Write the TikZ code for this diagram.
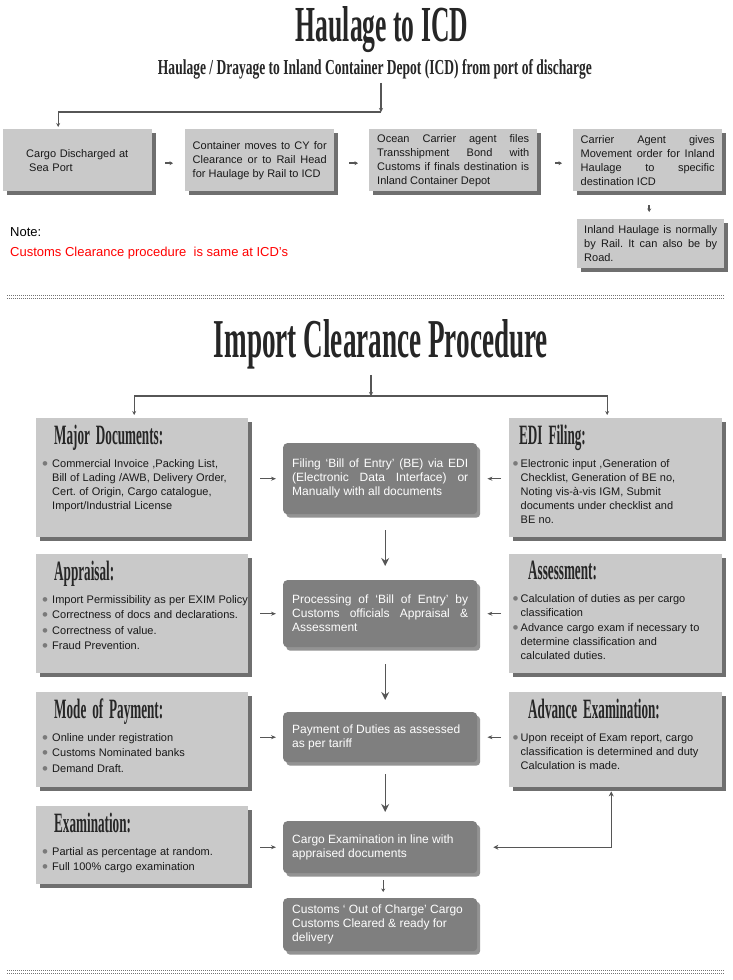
\documentclass[tikz,border=0pt]{standalone}
\usepackage{fontspec}
\setmainfont{Liberation Sans}
\newfontfamily\headserif{Liberation Serif}
\usepackage{graphicx}
\usetikzlibrary{shadows,positioning,arrows.meta}
\definecolor{boxgray}{HTML}{C9C9C9}
\definecolor{stepgray}{HTML}{7F7F7F}
\definecolor{arrowgray}{HTML}{565656}
\definecolor{bulgray}{HTML}{7A7A7A}
\definecolor{titlegray}{HTML}{262626}
\definecolor{notered}{HTML}{FF0000}
\frenchspacing
\newlength\bulw
\newlength\bulpre
\newcommand\phead[1]{\scalebox{0.47}[1]{\headserif\bfseries\fontsize{28}{28}\selectfont
  \spaceskip=0.45em\relax #1}}
\newcommand\bigtitle[3]{\resizebox{#1}{#2}{\headserif\bfseries #3}}
\newcommand\bulletmark{\raisebox{-2pt}{\fontsize{17}{14}\selectfont\textcolor{bulgray}{\textbullet}}}
\newcommand\bitem[1]{\par\hangindent=\bulw\hangafter=1\noindent
  \makebox[\bulw][l]{\hspace*{\bulpre}\bulletmark}#1\par\vspace{1.5pt}}
\newcommand\panelbody[4]{\parbox[t][#1][t]{\dimexpr\linewidth+10pt\relax}{\fontsize{11}{14}\selectfont
  \frenchspacing\hyphenpenalty=10000\relax
  \lineskiplimit=-20pt\relax\vspace*{7pt}\hspace*{#2}\textcolor{titlegray}{\phead{#3}}\par
  \vspace{8.5pt}#4}}
\tikzset{
  lightbox/.style={fill=boxgray, anchor=north west, text=black!90,
    drop shadow={shadow xshift=3.5pt, shadow yshift=-4pt, fill=black!80, opacity=.7}},
  topbox/.style={lightbox, font=\fontsize{11}{14}\selectfont, align=justify,
    inner ysep=2pt, minimum height=62pt},
  leftpanel/.style={lightbox, align=left, text width=210pt, inner xsep=1pt, inner ysep=0pt,
    execute at begin node={\setlength{\bulw}{15pt}\setlength{\bulpre}{5pt}}},
  rightpanel/.style={lightbox, align=left, text width=211pt, inner xsep=1pt, inner ysep=0pt,
    execute at begin node={\setlength{\bulw}{10.5pt}\setlength{\bulpre}{2.5pt}}},
  stepbox/.style={fill=stepgray, rounded corners=4pt, text=white, anchor=north west,
    font=\fontsize{12}{14}\selectfont, align=justify, text width=176pt,
    inner xsep=9pt, inner ysep=1pt,
    drop shadow={shadow xshift=3pt, shadow yshift=-3.5pt, fill=black!70, opacity=.6}},
  dotsep/.style={draw=black!55, line width=1pt, dash pattern=on 1pt off 1pt},
  linkarr/.style={draw=arrowgray, line width=1.3pt, -{Stealth[length=4pt,width=4pt]}},
  flowarr/.style={draw=arrowgray, line width=1.6pt, -{Stealth[length=3.5pt,width=4pt]}},
  sidearr/.style={draw=arrowgray, line width=0.8pt, -{Stealth[length=5pt,width=4pt]}},
  bigarr/.style={draw=arrowgray, line width=1.4pt, -{Stealth[length=8pt,width=8pt]}},
}
\begin{document}
\begin{tikzpicture}[x=1pt,y=-1pt,every node/.style={inner sep=0pt}]
\useasboundingbox (0,0) rectangle (732,980);
\fill[white] (0,0) rectangle (732,980);

% separators
\draw[dotsep] (7,295.5) -- (725,295.5);
\draw[dotsep] (7,298.5) -- (725,298.5);
\draw[dotsep] (7,970.5) -- (725,970.5);
\draw[dotsep] (7,973.5) -- (725,973.5);

% haulage titles
\node[anchor=base, text=titlegray] (haul) at (382,41) {\bigtitle{172pt}{35pt}{Haulage to ICD}};
\node[anchor=base, text=titlegray] (hsub) at (375,74)
  {\bigtitle{434pt}{15pt}{Haulage / Drayage to Inland Container Depot (ICD) from port of discharge}};
\coordinate (hj) at (381,112);

\node[topbox, text width=137pt, inner xsep=6pt, align=left] (cargo) at (3,129)
  {\hspace*{17pt}Cargo Discharged at\\\hspace*{20pt}Sea Port};
\node[topbox, text width=134pt, inner xsep=7.5pt] (cymove) at (185,129)
  {Container moves to CY for\linebreak Clearance or to Rail Head\linebreak for Haulage by Rail to ICD};
\node[topbox, text width=152pt, inner xsep=8pt] (bond) at (369,129)
  {Ocean Carrier agent files\linebreak Transshipment Bond with\linebreak Customs if finals destination is\linebreak Inland Container Depot};
\node[topbox, text width=134pt, inner xsep=7.5pt] (order) at (573,129)
  {Carrier Agent gives\linebreak Movement order for Inland\linebreak Haulage to specific\linebreak destination ICD};
\node[topbox, text width=133pt, inner xsep=7pt, minimum height=49pt] (inland) at (577,219)
  {Inland Haulage is normally\linebreak by Rail. It can also be by\linebreak Road.};

\node[anchor=base west, font=\fontsize{13}{15}\selectfont] (note) at (10,236) {Note:};
\node[anchor=base west, font=\fontsize{13}{15}\selectfont, text=notered] (noteline) at (10,256)
  {Customs Clearance procedure\ \ is same at ICD’s};

\draw[linkarr, shorten <=4pt] (hsub.south -| hj) -- (hj);
\draw[linkarr, shorten >=2pt] (hj) -| ([xshift=-19.5pt]cargo.north);
\draw[flowarr, shorten <=13pt, shorten >=12pt] ([yshift=-3pt]cargo.east) -- ([yshift=-3pt]cymove.west);
\draw[flowarr, shorten <=15pt, shorten >=11pt] ([yshift=-3pt]cymove.east) -- ([yshift=-3pt]bond.west);
\draw[flowarr, shorten <=18pt, shorten >=11pt] ([yshift=-3pt]bond.east) -- ([yshift=-3pt]order.west);
\draw[flowarr, shorten <=14pt, shorten >=7pt] ([xshift=1.5pt]order.south) -- ([xshift=-1.5pt]inland.north);

% import clearance
\node[anchor=base, text=titlegray] (imptitle) at (381,357) {\bigtitle{334pt}{38pt}{Import Clearance Procedure}};
\coordinate (ij) at (371,396);

\node[leftpanel] (major) at (36,418) {\panelbody{119pt}{17pt}{Major Documents:}{%
  \bitem{Commercial Invoice ,Packing List,\\ Bill of Lading /AWB, Delivery Order,\\ Cert. of Origin, Cargo catalogue,\\ Import/Industrial License}}};
\node[leftpanel] (appraisal) at (36,554) {\panelbody{119pt}{17pt}{Appraisal:}{%
  \bitem{Import Permissibility as per EXIM Policy}
  \bitem{Correctness of docs and declarations.}
  \bitem{Correctness of value.}
  \bitem{Fraud Prevention.}}};
\node[leftpanel] (mode) at (36,692) {\panelbody{95pt}{17pt}{Mode of Payment:}{%
  \bitem{Online under registration}
  \bitem{Customs Nominated banks}
  \bitem{Demand Draft.}}};
\node[leftpanel] (exam) at (36,806) {\panelbody{78pt}{17pt}{Examination:}{%
  \bitem{Partial as percentage at random.}
  \bitem{Full 100\% cargo examination}}};

\node[rightpanel] (edi) at (509,418) {\panelbody{119pt}{9pt}{EDI Filing:}{%
  \bitem{Electronic input ,Generation of\\ Checklist, Generation of BE no,\\ Noting vis-à-vis IGM, Submit\\ documents under checklist and\\ BE no.}}};
\node[rightpanel] (assess) at (509,554) {\panelbody{119pt}{18pt}{Assessment:}{%
  \bitem{Calculation of duties as per cargo\\ classification}
  \bitem{Advance cargo exam if necessary to\\ determine classification and\\ calculated duties.}}};
\node[rightpanel] (advexam) at (509,692) {\panelbody{95pt}{18pt}{Advance Examination:}{%
  \bitem{Upon receipt of Exam report, cargo\\ classification is determined and duty\\ Calculation is made.}}};

\node[stepbox, minimum height=71pt] (filing) at (283,443)
  {Filing ‘Bill of Entry’ (BE) via EDI\linebreak (Electronic Data Interface) or\linebreak Manually with all documents};
\node[stepbox, minimum height=67pt] (process) at (283,580)
  {Processing of ‘Bill of Entry’ by\linebreak Customs officials Appraisal \&\linebreak Assessment};
\node[stepbox, minimum height=50pt] (pay) at (283,712)
  {Payment of Duties as assessed\newline as per tariff};
\node[stepbox, minimum height=52pt] (cargoexam) at (283,821)
  {Cargo Examination in line with\newline appraised documents};
\node[stepbox, minimum height=53pt] (outcharge) at (283,898)
  {Customs ‘ Out of Charge’ Cargo\newline Customs Cleared \& ready for\newline delivery};

\draw[linkarr, shorten <=6pt] (imptitle.south -| ij) -- (ij);
\draw[linkarr, shorten >=3pt] (ij) -| ([xshift=-8pt]major.north);
\draw[linkarr, shorten >=3pt] (ij) -| ([xshift=-8.5pt]edi.north);

\draw[sidearr, shorten <=12pt, shorten >=7pt] (major.east |- filing) -- (filing.west);
\draw[sidearr, shorten <=12pt, shorten >=7pt] (appraisal.east |- process) -- (process.west);
\draw[sidearr, shorten <=12pt, shorten >=7pt] (mode.east |- pay) -- (pay.west);
\draw[sidearr, shorten <=12pt, shorten >=7pt] (exam.east |- cargoexam) -- (cargoexam.west);
\draw[sidearr, shorten <=8pt, shorten >=10pt] (edi.west |- filing) -- (filing.east);
\draw[sidearr, shorten <=8pt, shorten >=10pt] (assess.west |- process) -- (process.east);
\draw[sidearr, shorten <=8pt, shorten >=10pt] (advexam.west |- pay) -- (pay.east);

\draw[bigarr, shorten <=16pt, shorten >=14pt] ([xshift=5pt]filing.south) -- ([xshift=5pt]process.north);
\draw[bigarr, shorten <=17pt, shorten >=12pt] ([xshift=5pt]process.south) -- ([xshift=5pt]pay.north);
\draw[bigarr, shorten <=12pt, shorten >=9pt] ([xshift=5pt]pay.south) -- ([xshift=5pt]cargoexam.north);
\draw[flowarr, line width=1.2pt, shorten <=7pt, shorten >=6pt] ([xshift=3pt]cargoexam.south) -- ([xshift=3pt]outcharge.north);
\draw[sidearr, line width=1.1pt, {Stealth[length=5pt,width=5pt]}-{Stealth[length=5pt,width=5pt]},
  shorten <=4pt, shorten >=16pt] ([xshift=-4.5pt]advexam.south) |- (cargoexam.east);
\end{tikzpicture}
\end{document}
